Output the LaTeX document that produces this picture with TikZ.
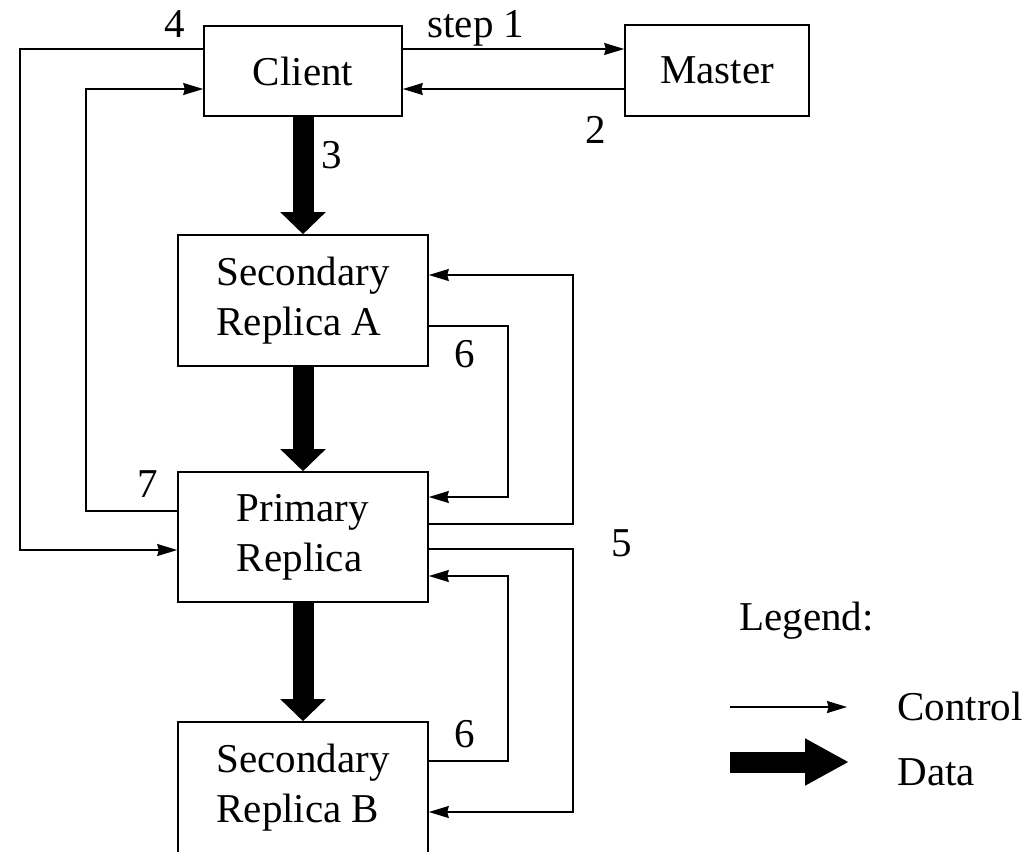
\documentclass[tikz,border=0pt]{standalone}
\usepackage{fontspec}
\setmainfont{Liberation Serif}
\usetikzlibrary{arrows.meta}
\begin{document}
\begin{tikzpicture}[x=0.5pt,y=-0.5pt,line width=0.8pt,
  txt/.style={font=\fontsize{20.5}{25}\selectfont},
  box/.style={draw,txt,align=left,inner sep=0pt},
  ctrl/.style={-{Stealth[length=10pt,width=6pt,inset=0.8pt]}},
  data/.style={line width=10.5pt,-{Triangle[length=11pt,width=22pt]}}]
\clip (0,0) rectangle (1031,851);
\node[box,minimum width=99pt,minimum height=45pt](client) at (303,71){Client};
\node[box,minimum width=92pt,minimum height=45.5pt](master) at (717,70.5){Master};
\node[box,minimum width=125pt,minimum height=65.5pt](secA) at (303,300.5){Secondary\\Replica A};
\node[box,minimum width=125pt,minimum height=65pt](primary) at (303,537){Primary\\Replica};
\node[box,minimum width=125pt,minimum height=65.5pt](secB) at (303,787.5){Secondary\\Replica B};
\draw[ctrl] (client.east |- 0,49) -- (master.west |- 0,49);
\node[txt,anchor=base](l1) at (476,37){step 1};
\draw[ctrl] (master.west |- 0,89) -- (client.east |- 0,89);
\node[txt,anchor=base](l2) at (596,143){2};
\draw[data] (client.south) -- (secA.north);
\node[txt,anchor=base](l3) at (332,168){3};
\draw[ctrl] (client.west |- 0,49) -| (20,550) -- (primary.west |- 0,550);
\node[txt,anchor=base](l4) at (175,37){4};
\draw[ctrl] (primary.west |- 0,511) -| (86,89) -- (client.west |- 0,89);
\node[txt,anchor=base](l7) at (148,497){7};
\draw[data] (secA.south) -- (primary.north);
\draw[ctrl] (secA.east |- 0,326) -| (508,497) -- (primary.east |- 0,497);
\node[txt,anchor=base](l6a) at (465,367){6};
\draw[ctrl] (primary.east |- 0,524) -| (573,275) -- (secA.east |- 0,275);
\draw[ctrl] (primary.east |- 0,549) -| (573,812) -- (secB.east |- 0,812);
\node[txt,anchor=base](l5) at (622,556){5};
\draw[ctrl] (secB.east |- 0,761) -| (508,576) -- (primary.east |- 0,576);
\node[txt,anchor=base](l6b) at (465,747){6};
\draw[data] (primary.south) -- (secB.north);
\node[txt,anchor=base west](legend) at (732,630){Legend:};
\node[txt,anchor=base west](control) at (890,720){Control};
\node[txt,anchor=base west](datatxt) at (890,785){Data};
\coordinate (c1) at (730,707);
\coordinate (c2) at (847,707);
\coordinate (d1) at (730,762);
\coordinate (d2) at (849,762);
\draw[ctrl] (c1) -- (c2);
\draw[data,-{Triangle[length=22pt,width=22pt]}] (d1) -- (d2);
\end{tikzpicture}
\end{document}
